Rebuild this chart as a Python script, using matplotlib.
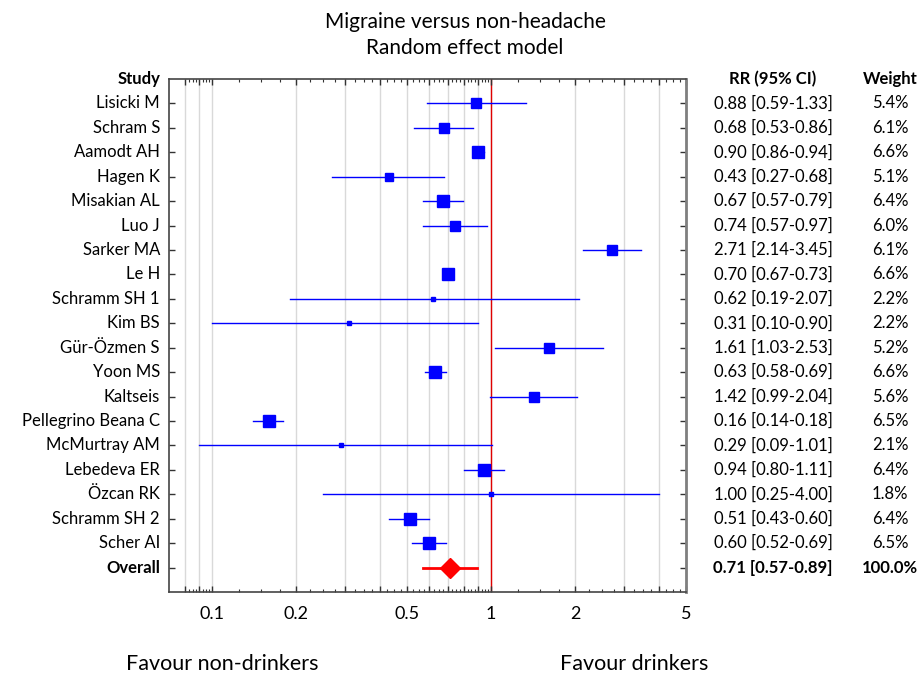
import numpy as np
import matplotlib.pyplot as plt
from matplotlib.ticker import FixedLocator, NullFormatter
from matplotlib.transforms import blended_transform_factory

plt.rcParams['font.family'] = ['Lato', 'DejaVu Sans']

studies = ["Lisicki M", "Schram S", "Aamodt AH", "Hagen K", "Misakian AL", "Luo J",
           "Sarker MA", "Le H", "Schramm SH 1", "Kim BS", "Gür-Özmen S", "Yoon MS",
           "Kaltseis", "Pellegrino Beana C", "McMurtray AM", "Lebedeva ER", "Özcan RK",
           "Schramm SH 2", "Scher AI"]
rr = [0.88, 0.68, 0.90, 0.43, 0.67, 0.74, 2.71, 0.70, 0.62, 0.31, 1.61, 0.63,
      1.42, 0.16, 0.29, 0.94, 1.00, 0.51, 0.60]
lo = [0.59, 0.53, 0.86, 0.27, 0.57, 0.57, 2.14, 0.67, 0.19, 0.10, 1.03, 0.58,
      0.99, 0.14, 0.09, 0.80, 0.25, 0.43, 0.52]
hi = [1.33, 0.86, 0.94, 0.68, 0.79, 0.97, 3.45, 0.73, 2.07, 0.90, 2.53, 0.69,
      2.04, 0.18, 1.01, 1.11, 4.00, 0.60, 0.69]
weight = [5.4, 6.1, 6.6, 5.1, 6.4, 6.0, 6.1, 6.6, 2.2, 2.2, 5.2, 6.6,
          5.6, 6.5, 2.1, 6.4, 1.8, 6.4, 6.5]
overall = (0.71, 0.57, 0.89)
tick_vals = [0.1, 0.2, 0.5, 1, 2, 5]
tick_labels = ["0.1", "0.2", "0.5", "1", "2", "5"]

W, H = 924, 675
fig = plt.figure(figsize=(W / 100, H / 100), dpi=100)
ax = fig.add_axes([169/W, 1 - 592/H, (686-169)/W, (592-79)/H])
tr = blended_transform_factory(fig.transFigure, ax.transData)

n = len(studies)

# grid at each multiple within decades
majors = []
for d in [0.01, 0.1, 1]:
    for k in range(1, 10):
        v = round(k * d, 4)
        if 0.07 < v <= 5.0:
            majors.append(v)
minors = []
for a, b in zip(majors[:-1], majors[1:]):
    for f in [0.25, 0.5, 0.75]:
        minors.append(a + (b - a) * f)

for v in majors:
    ax.axvline(v, color='#d9d9d9', lw=1, zorder=0)
ax.axvline(1, color='#e00000', lw=1, zorder=1)

for i in range(n):
    ax.plot([lo[i], hi[i]], [i, i], color='#0000ff', lw=1, zorder=2)
    ax.plot(rr[i], i, marker='s', color='#0000ff', ms=weight[i] * 1.75 * 0.72,
            zorder=3, lw=0)

ax.plot([overall[1], overall[2]], [n, n], color='#ff0000', lw=2, zorder=2)
ax.plot(overall[0], n, marker='D', color='#ff0000', ms=10, zorder=3, lw=0)

ax.set_xscale('log')
ax.set_xlim(0.07, 5)
ax.set_ylim(n + 1, -1)

ax.xaxis.set_major_locator(FixedLocator(majors))
ax.xaxis.set_minor_locator(FixedLocator(minors))
ax.xaxis.set_major_formatter(NullFormatter())
ax.xaxis.set_minor_formatter(NullFormatter())
ax.tick_params(axis='x', which='major', direction='in', length=4, width=1,
               top=True, bottom=True, color='#333333')
ax.tick_params(axis='x', which='minor', direction='in', length=2, width=0.8,
               top=True, bottom=True, color='#333333')
ax.set_yticks(np.arange(n + 1))
ax.set_yticklabels([])
ax.tick_params(axis='y', which='both', direction='in', length=4, width=1,
               left=True, right=True, color='#333333')

for s in ['left', 'top', 'bottom']:
    ax.spines[s].set_color('#444444')
    ax.spines[s].set_linewidth(1.2)
ax.spines['right'].set_color('#7f7f7f')
ax.spines['right'].set_linewidth(2)

xtr = blended_transform_factory(ax.transData, fig.transFigure)
for v, t in zip(tick_vals, tick_labels):
    ax.text(v, 1 - 614/H, t, transform=xtr, ha='center', va='center', fontsize=13)

fs = 12
xs, xrr, xw = 160/W, 773/W, 890/W
ax.text(xs, -1, "Study", transform=tr, ha='right', va='center', fontsize=fs, weight='bold')
ax.text(xrr, -1, "RR (95% CI)", transform=tr, ha='center', va='center',
        fontsize=fs, weight='bold')
ax.text(xw, -1, "Weight", transform=tr, ha='center', va='center', fontsize=fs,
        weight='bold')
for i in range(n):
    ax.text(xs, i, studies[i], transform=tr, ha='right', va='center', fontsize=fs)
    ax.text(xrr, i, f"{rr[i]:.2f} [{lo[i]:.2f}-{hi[i]:.2f}]", transform=tr,
            ha='center', va='center', fontsize=fs)
    ax.text(xw, i, f"{weight[i]:.1f}%", transform=tr, ha='center', va='center',
            fontsize=fs)
ax.text(xs, n, "Overall", transform=tr, ha='right', va='center', fontsize=fs,
        weight='bold')
ax.text(xrr, n, f"{overall[0]:.2f} [{overall[1]:.2f}-{overall[2]:.2f}]",
        transform=tr, ha='center', va='center', fontsize=fs, weight='bold')
ax.text(xw, n, "100.0%", transform=tr, ha='center', va='center', fontsize=fs,
        weight='bold')

fig.text(465/W, 1 - 22/H, "Migraine versus non-headache", ha='center',
         va='center', fontsize=15)
fig.text(465/W, 1 - 48/H, "Random effect model", ha='center',
         va='center', fontsize=15)
fig.text(222/W, 1 - 664/H, "Favour non-drinkers", ha='center', va='center',
         fontsize=15.5)
fig.text(634/W, 1 - 664/H, "Favour drinkers", ha='center', va='center',
         fontsize=15.5)

fig.savefig("out.png", dpi=100)
